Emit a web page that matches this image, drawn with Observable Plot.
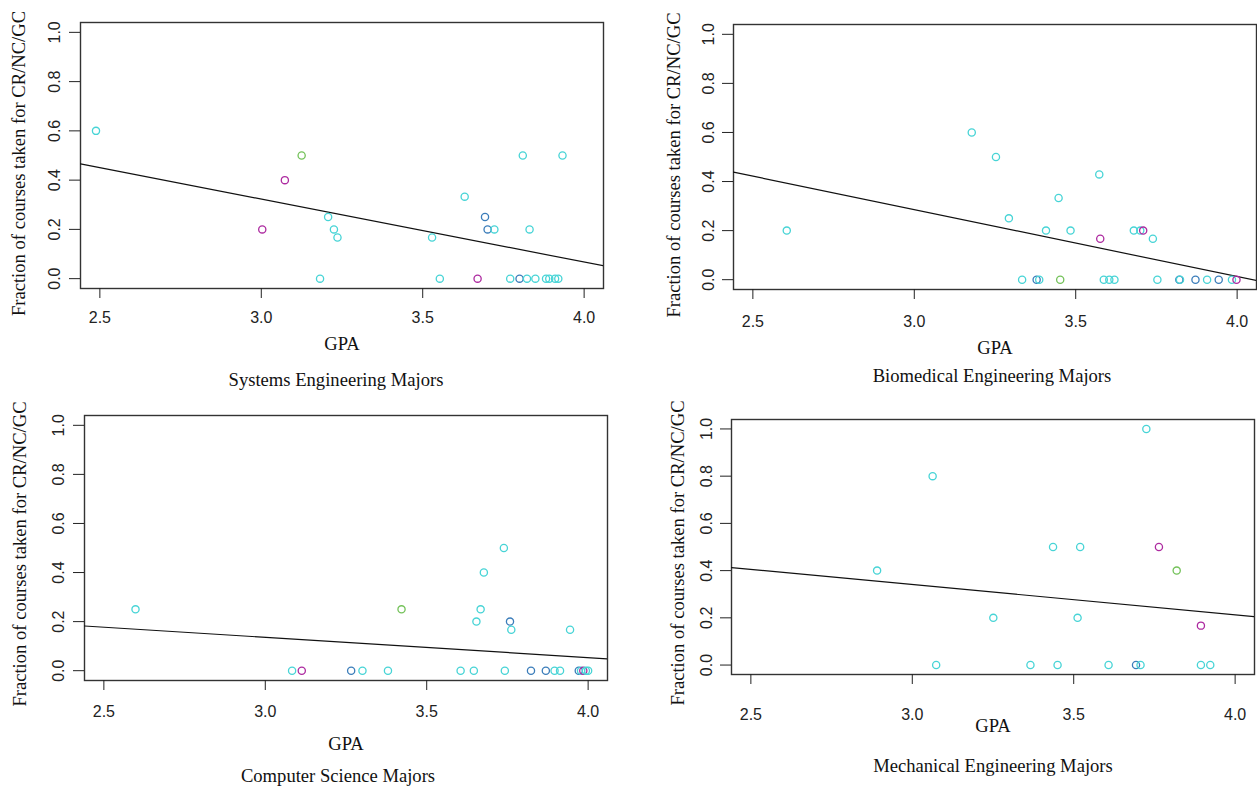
<!DOCTYPE html>
<html>
<head>
<meta charset="utf-8">
<script src="https://cdn.jsdelivr.net/npm/d3@7"></script>
<script src="https://cdn.jsdelivr.net/npm/@observablehq/plot@0.6"></script>
<style>
  body { margin: 0; background: #fff; }
  #root { position: relative; width: 1257px; height: 788px; overflow: hidden; background: #fff; }
  .panel { position: absolute; }
  .sub { position: absolute; font-family: "Liberation Serif", "Times New Roman", serif; font-size: 18.6px; color: #111;
         transform: translate(-50%, -50%); white-space: nowrap; }
</style>
</head>
<body>
<div id="root"></div>
<script>
// ---- shared labels / ticks ----
const xTicks = [2.5, 3.0, 3.5, 4.0];
const yTicks = [0, 0.2, 0.4, 0.6, 0.8, 1.0];
const xLabel = "GPA";
const yLabel = "Fraction of courses taken for CR/NC/GC";
const majors = ["Systems Engineering Majors", "Biomedical Engineering Majors", "Computer Science Majors", "Mechanical Engineering Majors"];
const groups = ["g1", "g2", "g3", "g4"];
const groupColors = ["#47d4d6", "#3b7dba", "#ad2aa0", "#74c25a"];

// ---- Systems Engineering ----
const sysGpa  = [2.488, 3.125, 3.073, 3.003, 3.207, 3.225, 3.236, 3.182, 3.529, 3.553, 3.630, 3.670, 3.693, 3.701, 3.722, 3.810, 3.831, 3.933, 3.771, 3.800, 3.823, 3.849, 3.882, 3.892, 3.910, 3.920];
const sysFrac = [0.6, 0.5, 0.4, 0.2, 0.25, 0.2, 0.167, 0, 0.167, 0, 0.333, 0, 0.25, 0.2, 0.2, 0.5, 0.2, 0.5, 0, 0, 0, 0, 0, 0, 0, 0];
const sysGrp  = ["g1","g4","g3","g3","g1","g1","g1","g1","g1","g1","g1","g3","g2","g2","g1","g1","g1","g1","g1","g2","g1","g1","g1","g1","g1","g1"];
const sysFit  = [1.089, -0.2554];

// ---- Biomedical Engineering ----
const bioGpa  = [2.605, 3.178, 3.253, 3.293, 3.408, 3.447, 3.484, 3.573, 3.576, 3.680, 3.700, 3.709, 3.739, 3.334, 3.379, 3.387, 3.452, 3.587, 3.604, 3.620, 3.753, 3.821, 3.823, 3.871, 3.907, 3.943, 3.984, 3.998];
const bioFrac = [0.2, 0.6, 0.5, 0.25, 0.2, 0.333, 0.2, 0.429, 0.167, 0.2, 0.2, 0.2, 0.167, 0, 0, 0, 0, 0, 0, 0, 0, 0, 0, 0, 0, 0, 0, 0];
const bioGrp  = ["g1","g1","g1","g1","g1","g1","g1","g1","g3","g1","g1","g3","g1","g1","g2","g1","g4","g1","g1","g1","g1","g2","g1","g2","g1","g2","g1","g3"];
const bioFit  = [1.104, -0.2728];

// ---- Computer Science ----
const csGpa  = [2.598, 3.422, 3.739, 3.677, 3.667, 3.654, 3.758, 3.762, 3.944, 3.083, 3.113, 3.266, 3.301, 3.380, 3.605, 3.646, 3.742, 3.823, 3.869, 3.896, 3.913, 3.971, 3.978, 3.985, 3.993, 4.0];
const csFrac = [0.25, 0.25, 0.5, 0.4, 0.25, 0.2, 0.2, 0.167, 0.167, 0, 0, 0, 0, 0, 0, 0, 0, 0, 0, 0, 0, 0, 0, 0, 0, 0];
const csGrp  = ["g1","g4","g1","g1","g1","g1","g2","g1","g1","g1","g3","g2","g1","g1","g1","g1","g1","g2","g2","g1","g1","g2","g1","g3","g1","g1"];
const csFit  = [0.384, -0.0827];

// ---- Mechanical Engineering ----
const meGpa  = [3.725, 3.063, 2.891, 3.436, 3.520, 3.764, 3.819, 3.251, 3.512, 3.894, 3.074, 3.366, 3.450, 3.608, 3.693, 3.707, 3.894, 3.923];
const meFrac = [1.0, 0.8, 0.4, 0.5, 0.5, 0.5, 0.4, 0.2, 0.2, 0.167, 0, 0, 0, 0, 0, 0, 0, 0];
const meGrp  = ["g1","g1","g1","g1","g1","g3","g4","g1","g1","g3","g1","g1","g1","g1","g2","g1","g1","g1"];
const meFit  = [0.725, -0.128];

const xDomain = [2.44, 4.06];
const yDomain = [-0.04, 1.04];

const panels = [
  {title: majors[0], gpa: sysGpa, frac: sysFrac, grp: sysGrp, fit: sysFit,
   left: 0, top: 0, width: 628, height: 360, mL: 80, mR: 25, mT: 22, mB: 72, xPad: 13, yPad: 10, gpaDy: 56, ytDx: -61, ytDy: 8, subX: 336, subY: 380},
  {title: majors[1], gpa: bioGpa, frac: bioFrac, grp: bioGrp, fit: bioFit,
   left: 628, top: 0, width: 629, height: 360, mL: 105, mR: 1, mT: 24, mB: 71, xPad: 16, yPad: 9, gpaDy: 59, ytDx: -59, ytDy: 8, subX: 992, subY: 376},
  {title: majors[2], gpa: csGpa, frac: csFrac, grp: csGrp, fit: csFit,
   left: 0, top: 390, width: 628, height: 370, mL: 84, mR: 21, mT: 25, mB: 80, xPad: 15, yPad: 10, gpaDy: 64, ytDx: -64, ytDy: 6, subX: 338, subY: 776},
  {title: majors[3], gpa: meGpa, frac: meFrac, grp: meGrp, fit: meFit,
   left: 628, top: 390, width: 629, height: 370, mL: 103, mR: 3, mT: 29, mB: 86, xPad: 24, yPad: 9, gpaDy: 52, ytDx: -53, ytDy: 6, subX: 993, subY: 766}
];

const root = document.getElementById("root");
const fmt = d3.format(".1f");
const serif = "'Liberation Serif', 'Times New Roman', serif";

for (const p of panels) {
  const data = p.gpa.map((g, i) => ({gpa: g, frac: p.frac[i], grp: p.grp[i]}));
  const [a, b] = p.fit;
  const chart = Plot.plot({
    width: p.width,
    height: p.height,
    marginLeft: p.mL, marginRight: p.mR, marginTop: p.mT, marginBottom: p.mB,
    style: {fontFamily: "'Liberation Sans', Arial, sans-serif", fontSize: "16px", color: "#222", background: "transparent", overflow: "visible"},
    x: {domain: xDomain},
    y: {domain: yDomain},
    color: {domain: groups, range: groupColors},
    marks: [
      Plot.frame({stroke: "#333", strokeWidth: 1.4}),
      Plot.axisX(xTicks, {tickSize: 10, tickPadding: p.xPad, tickFormat: fmt, label: null, fontSize: 16}),
      Plot.axisY(yTicks, {tickSize: 11, tickPadding: p.yPad, tickFormat: fmt, label: null, tickRotate: -90,
                          textAnchor: "middle", lineAnchor: "bottom", fontSize: 16}),
      Plot.line(xDomain, {x: d => d, y: d => a + b * d, stroke: "#111", strokeWidth: 1.2, clip: true}),
      Plot.dot(data, {x: "gpa", y: "frac", stroke: "grp", r: 3.6, strokeWidth: 1.3, fill: "none"}),
      Plot.text([xLabel], {frameAnchor: "bottom", dy: p.gpaDy, text: d => d, lineAnchor: "middle", textAnchor: "middle",
                           fontFamily: serif, fontSize: 18.6, fill: "#111"}),
      Plot.text([yLabel], {frameAnchor: "left", dx: p.ytDx, dy: p.ytDy, rotate: -90, text: d => d,
                           textAnchor: "middle", lineAnchor: "middle",
                           fontFamily: serif, fontSize: 18.6, fill: "#111"})
    ]
  });
  chart.classList.add("panel");
  chart.style.left = p.left + "px";
  chart.style.top = p.top + "px";
  root.appendChild(chart);

  const sub = document.createElement("div");
  sub.className = "sub";
  sub.textContent = p.title;
  sub.style.left = p.subX + "px";
  sub.style.top = p.subY + "px";
  root.appendChild(sub);
}
</script>
</body>
</html>
